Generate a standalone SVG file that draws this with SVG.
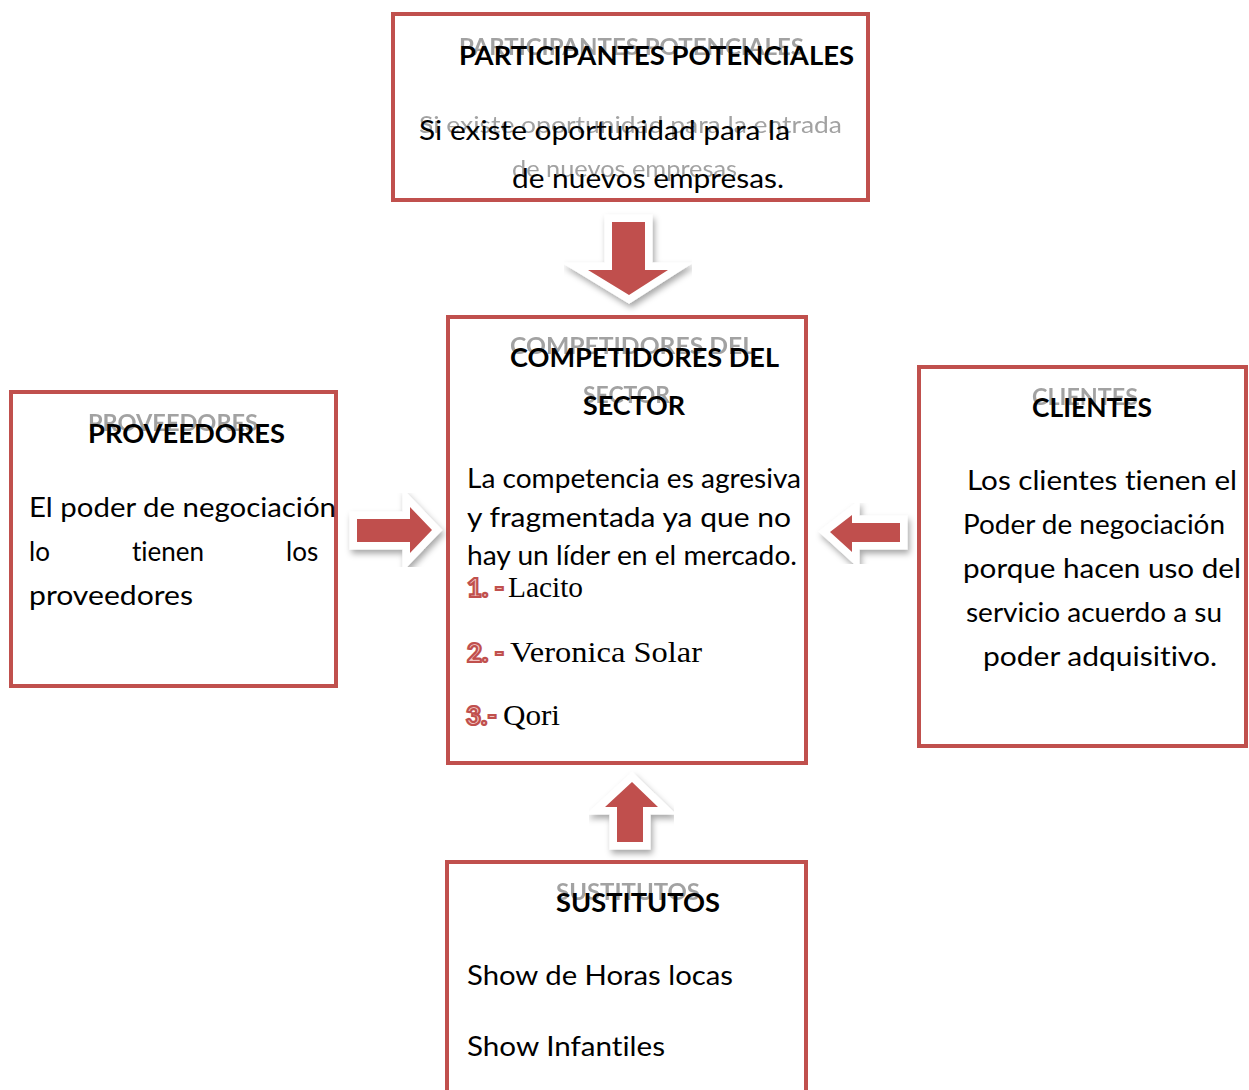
<svg xmlns="http://www.w3.org/2000/svg" width="1249" height="1090" viewBox="0 0 1249 1090">
<defs>
<filter id="sh" x="-30%" y="-30%" width="160%" height="160%">
<feDropShadow dx="2" dy="4" stdDeviation="3" flood-color="#000" flood-opacity="0.35"/>
</filter>
<filter id="soft" x="-5%" y="-20%" width="110%" height="140%">
<feGaussianBlur stdDeviation="0.6"/>
</filter>
</defs>
<style>
text{font-variant-ligatures:none}
.box{fill:#fff;stroke:#c0504d;stroke-width:4}
.h{font-family:Lato,"Liberation Sans",sans-serif;font-weight:bold;font-size:26px;fill:#000}
.g{font-family:Lato,"Liberation Sans",sans-serif;font-weight:bold;font-size:23px;fill:#8c8c8c;opacity:0.8;filter:url(#soft)}
.gt{font-family:Lato,"Liberation Sans",sans-serif;font-size:24px;fill:#8c8c8c;opacity:0.8;filter:url(#soft)}
.t{font-family:Lato,"Liberation Sans",sans-serif;font-size:26px;fill:#000}
.s{font-family:"Liberation Serif",serif;font-size:30px;fill:#000}
.n{font-family:Lato,"Liberation Sans",sans-serif;font-weight:900;font-size:26px;fill:#f2c4c3;stroke:#c0504d;stroke-width:2.2}
.arw{fill:#c0504d;stroke:#fff;stroke-width:15;stroke-linejoin:miter;stroke-miterlimit:6;paint-order:stroke;filter:url(#sh)}
</style>
<g id="participantes">
<rect class="box" x="393" y="14" width="475" height="186"/>
<text class="g" x="459" y="55" textLength="345" lengthAdjust="spacingAndGlyphs">PARTICIPANTES POTENCIALES</text>
<text class="h" x="459" y="65" textLength="395" lengthAdjust="spacingAndGlyphs">PARTICIPANTES POTENCIALES</text>
<text class="gt" x="419" y="133" textLength="423" lengthAdjust="spacingAndGlyphs">Si existe oportunidad para la entrada</text>
<text class="gt" x="512" y="177" textLength="231" lengthAdjust="spacingAndGlyphs">de nuevos empresas.</text>
<text class="t" x="419" y="140" textLength="371" lengthAdjust="spacingAndGlyphs">Si existe oportunidad para la</text>
<text class="t" x="512" y="188" textLength="272" lengthAdjust="spacingAndGlyphs">de nuevos empresas.</text>
</g>
<g id="competidores">
<rect class="box" x="448" y="317" width="358" height="446"/>
<text class="g" x="510" y="354" textLength="245" lengthAdjust="spacingAndGlyphs">COMPETIDORES DEL</text>
<text class="h" x="510" y="367" textLength="269" lengthAdjust="spacingAndGlyphs">COMPETIDORES DEL</text>
<text class="g" x="583" y="403" textLength="87" lengthAdjust="spacingAndGlyphs">SECTOR</text>
<text class="h" x="583" y="415" textLength="102" lengthAdjust="spacingAndGlyphs">SECTOR</text>
<text class="t" x="467" y="488" textLength="334" lengthAdjust="spacingAndGlyphs">La competencia es agresiva</text>
<text class="t" x="467" y="527" textLength="324" lengthAdjust="spacingAndGlyphs">y  fragmentada ya  que no</text>
<text class="t" x="467" y="565" textLength="330" lengthAdjust="spacingAndGlyphs">hay un líder en el mercado.</text>
<text class="n" x="467" y="597">1. -</text>
<text class="s" x="508" y="597" textLength="75" lengthAdjust="spacingAndGlyphs">Lacito</text>
<text class="n" x="467" y="662">2. -</text>
<text class="s" x="510" y="662" textLength="192" lengthAdjust="spacingAndGlyphs">Veronica Solar</text>
<text class="n" x="466" y="725">3.-</text>
<text class="s" x="503" y="725" textLength="57" lengthAdjust="spacingAndGlyphs">Qori</text>
</g>
<g id="proveedores">
<rect class="box" x="11" y="392" width="325" height="294"/>
<text class="g" x="88" y="431" textLength="170" lengthAdjust="spacingAndGlyphs">PROVEEDORES</text>
<text class="h" x="88" y="443" textLength="197" lengthAdjust="spacingAndGlyphs">PROVEEDORES</text>
<text class="t" x="29" y="517" textLength="307" lengthAdjust="spacingAndGlyphs">El poder de negociación</text>
<text class="t" y="561"><tspan x="29">lo</tspan><tspan x="132">tienen</tspan><tspan x="286">los</tspan></text>
<text class="t" x="29" y="605" textLength="164" lengthAdjust="spacingAndGlyphs">proveedores</text>
</g>
<g id="clientes">
<rect class="box" x="919" y="367" width="327" height="379"/>
<text class="g" x="1032" y="405" textLength="106" lengthAdjust="spacingAndGlyphs">CLIENTES</text>
<text class="h" x="1032" y="417" textLength="120" lengthAdjust="spacingAndGlyphs">CLIENTES</text>
<text class="t" x="967" y="490" textLength="270" lengthAdjust="spacingAndGlyphs">Los clientes tienen el</text>
<text class="t" x="963" y="534" textLength="262" lengthAdjust="spacingAndGlyphs">Poder de negociación</text>
<text class="t" x="963" y="578" textLength="278" lengthAdjust="spacingAndGlyphs">porque hacen uso del</text>
<text class="t" x="966" y="622" textLength="256" lengthAdjust="spacingAndGlyphs">servicio acuerdo a su</text>
<text class="t" x="983" y="666" textLength="234" lengthAdjust="spacingAndGlyphs">poder adquisitivo.</text>
</g>
<g id="sustitutos">
<rect class="box" x="447" y="862" width="359" height="240"/>
<text class="g" x="556" y="900" textLength="144" lengthAdjust="spacingAndGlyphs">SUSTITUTOS</text>
<text class="h" x="556" y="912" textLength="164" lengthAdjust="spacingAndGlyphs">SUSTITUTOS</text>
<text class="t" x="467" y="985" textLength="266" lengthAdjust="spacingAndGlyphs">Show de Horas locas</text>
<text class="t" x="467" y="1056" textLength="198" lengthAdjust="spacingAndGlyphs">Show Infantiles</text>
</g>
<g id="connectors">
<polygon class="arw" points="612,222 645,222 645,270 668,270 629,295 588,270 612,270"/>
<polygon class="arw" points="357,519 410,519 410,507 432,530 410,553 410,542 357,542"/>
<polygon class="arw" points="900,523 852,523 852,515 830,532 852,552 852,542 900,542"/>
<polygon class="arw" points="617,842 617,807 605,807 632,782 658,807 643,807 643,842"/>
</g>
</svg>
